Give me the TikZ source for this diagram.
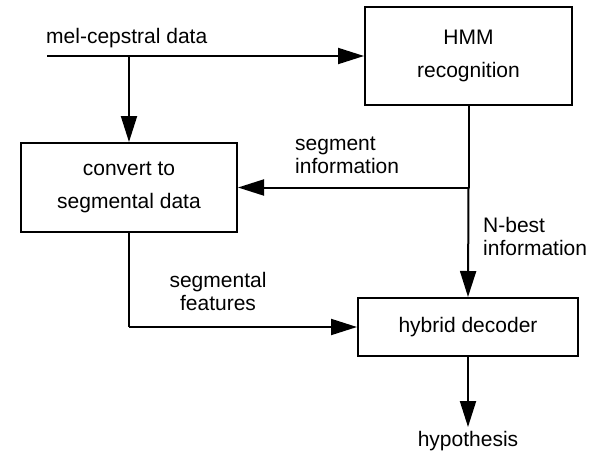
\documentclass[tikz,border=0pt]{standalone}
\usepackage{fontspec}
\setmainfont{Liberation Sans}
\usetikzlibrary{arrows.meta}
\begin{document}
\begin{tikzpicture}[x=1pt,y=-1pt,
  box/.style={draw,line width=2pt,inner sep=0pt,align=center,font=\fontsize{21}{33}\selectfont},
  lbl/.style={inner sep=0pt,font=\fontsize{21}{22.5}\selectfont},
  conn/.style={line width=2pt,-{Triangle[length=26pt,width=16pt]}},
  plain/.style={line width=2pt}]
\useasboundingbox (0,0) rectangle (599,450);
\node[box,minimum width=207pt,minimum height=98pt] (hmm) at (468.5,56) {\raisebox{-3pt}{HMM}\\\raisebox{-3pt}{recognition}};
\node[box,minimum width=216pt,minimum height=89pt] (conv) at (129,187.5) {\raisebox{-4pt}{convert to}\\\raisebox{-4pt}{segmental data}};
\node[box,minimum width=220pt,minimum height=58pt] (hyb) at (468,327) {hybrid decoder};
\coordinate (in) at (47,56);
\coordinate (br) at (129,56);
\coordinate (hyp) at (468,427);
\coordinate (si) at (hmm.south |- conv.east);
\coordinate (sf) at (conv.south |- hyb.west);
\draw[conn] (in) -- (hmm.west);
\draw[conn] (br) -- (conv.north);
\draw[plain] (hmm.south) -- (si);
\draw[conn] (si) -- (conv.east);
\draw[conn] (si) -- (hyb.north);
\draw[plain] (conv.south) -- (sf);
\draw[conn] (sf) -- (hyb.west);
\draw[conn] (hyb.south) -- (hyp);
\node[lbl,anchor=base west] (tmel) at (46,43) {mel-cepstral data};
\node[lbl,anchor=base west,align=left] (tseg) at (295,173) {segment\\information};
\node[lbl,anchor=base west,align=left] (tnb) at (483,255) {N-best\\information};
\node[lbl,anchor=base,align=center] (tsf) at (218,310) {segmental\\features};
\node[lbl,anchor=base] (thyp) at (468,446) {hypothesis};
\end{tikzpicture}
\end{document}
